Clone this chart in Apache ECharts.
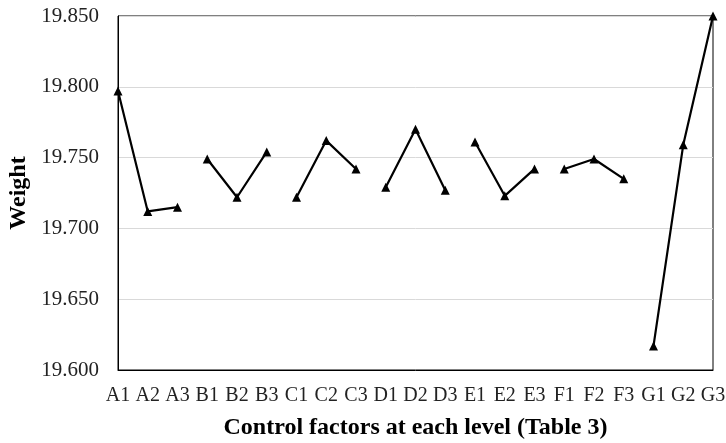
<!DOCTYPE html>
<html>
<head>
<meta charset="utf-8">
<script src="https://cdn.jsdelivr.net/npm/echarts@6/dist/echarts.min.js"></script>
<style>
  html, body { margin: 0; padding: 0; background: #fff; }
  #chart { width: 726px; height: 443px; }
</style>
</head>
<body>
<div id="chart"></div>
<script>
var categories = ['A1', 'A2', 'A3', 'B1', 'B2', 'B3', 'C1', 'C2', 'C3', 'D1', 'D2', 'D3',
                  'E1', 'E2', 'E3', 'F1', 'F2', 'F3', 'G1', 'G2', 'G3'];
var factors = ['A', 'B', 'C', 'D', 'E', 'F', 'G'];
var weights = [19.797, 19.712, 19.715,
               19.749, 19.722, 19.754,
               19.722, 19.762, 19.742,
               19.729, 19.770, 19.727,
               19.761, 19.723, 19.742,
               19.742, 19.749, 19.735,
               19.617, 19.759, 19.850];
var yTicks = [19.600, 19.650, 19.700, 19.750, 19.800, 19.850];

var chart = echarts.init(document.getElementById('chart'));
var font = '"Liberation Serif", "Times New Roman", serif';

// one line per factor, so levels of different factors are not joined
var series = factors.map(function (f) {
    var data = categories.map(function (c, i) {
        return c.charAt(0) === f ? weights[i] : null;
    });
    return {
        name: f,
        type: 'line',
        data: data,
        connectNulls: false,
        symbol: 'triangle',
        symbolSize: 9,
        itemStyle: { color: '#000' },
        lineStyle: { color: '#000', width: 2.2 },
        animation: false
    };
});

var option = {
    backgroundColor: '#fff',
    grid: {
        left: 118,
        right: 13,
        top: 16,
        bottom: 73,
        outerBoundsMode: 'none',
        show: true,
        borderColor: '#000',
        borderWidth: 1
    },
    xAxis: {
        type: 'category',
        data: categories,
        boundaryGap: false,
        name: 'Control factors at each level (Table 3)',
        nameLocation: 'middle',
        nameGap: 46,
        nameTextStyle: { fontFamily: font, fontSize: 24, fontWeight: 'bold', color: '#000' },
        axisLine: { lineStyle: { color: '#000', width: 1 } },
        axisTick: { show: false },
        axisLabel: { fontFamily: font, fontSize: 20, color: '#222', margin: 16, interval: 0 },
        splitLine: { show: false }
    },
    yAxis: {
        type: 'value',
        min: yTicks[0],
        max: yTicks[yTicks.length - 1],
        interval: 0.05,
        name: 'Weight',
        nameLocation: 'middle',
        nameRotate: 90,
        nameGap: 79,
        nameTextStyle: { fontFamily: font, fontSize: 24, fontWeight: 'bold', color: '#000' },
        axisLine: { show: true, lineStyle: { color: '#000', width: 1 } },
        axisTick: { show: false },
        axisLabel: {
            fontFamily: font, fontSize: 21, color: '#222', margin: 19,
            formatter: function (v) { return v.toFixed(3); }
        },
        splitLine: { lineStyle: { color: '#d9d9d9', width: 1 } }
    },
    series: series
};

chart.setOption(option);
</script>
</body>
</html>
